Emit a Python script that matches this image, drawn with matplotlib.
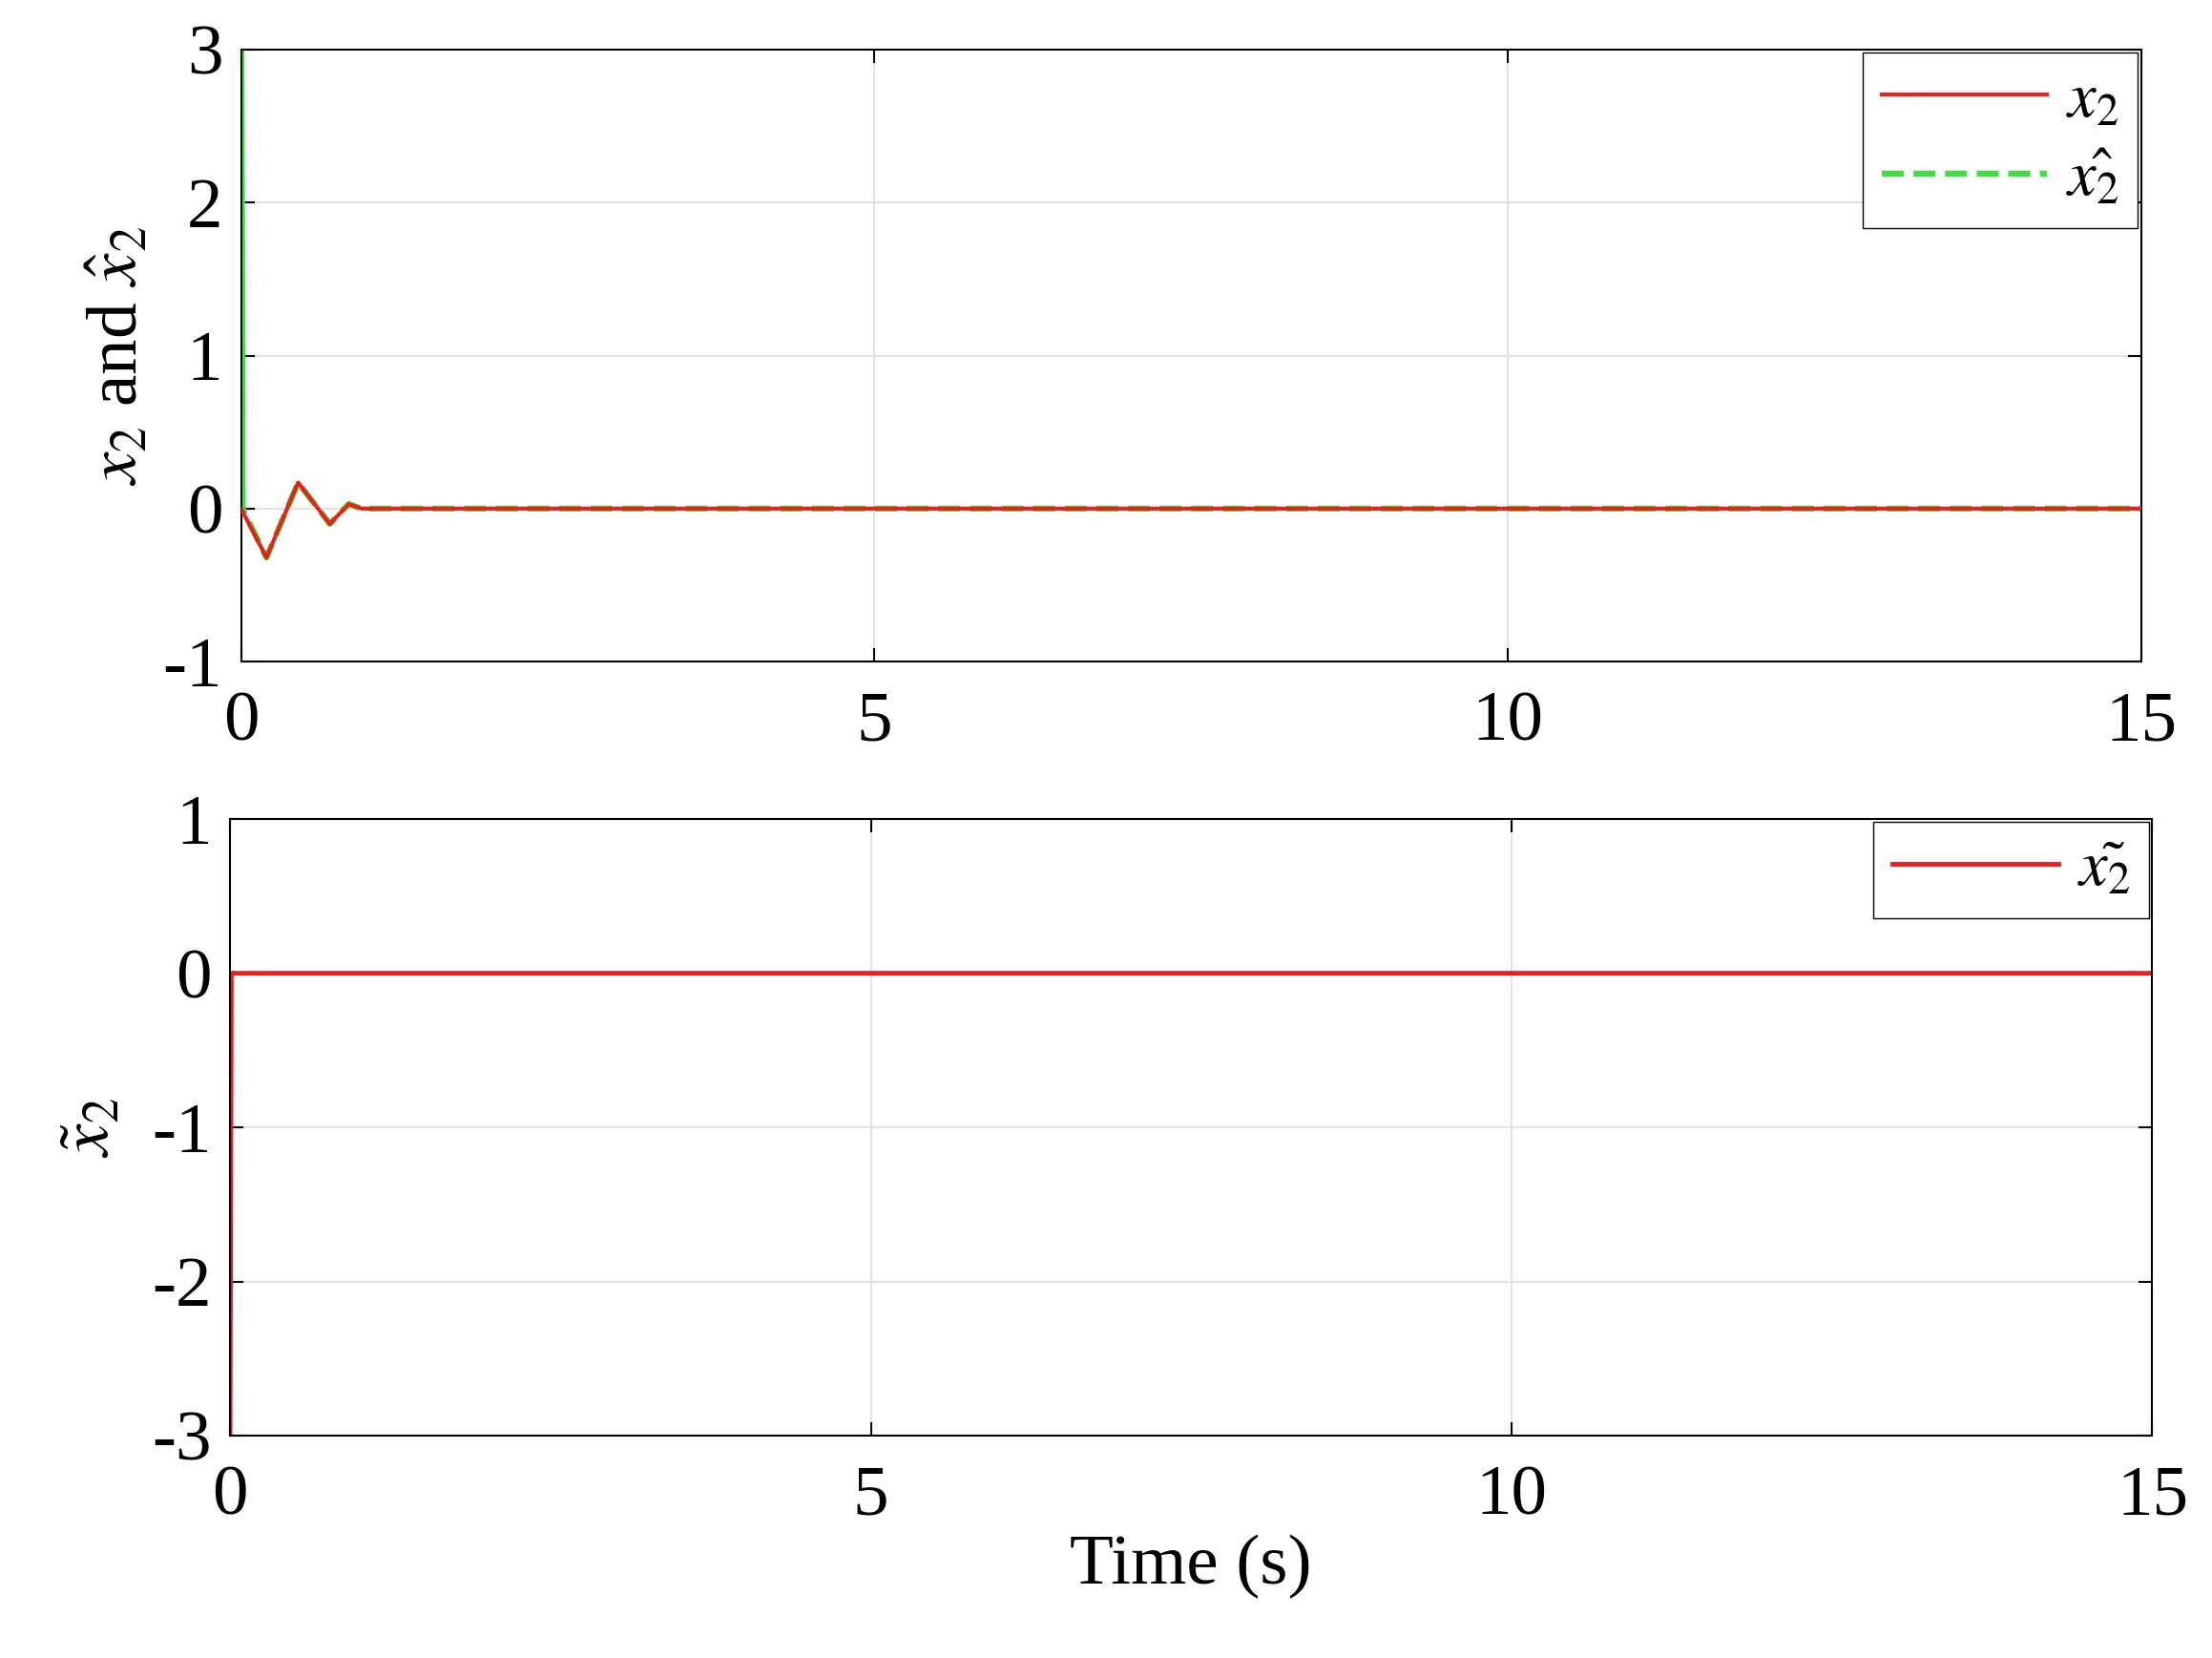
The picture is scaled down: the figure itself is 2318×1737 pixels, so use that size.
import numpy as np
import matplotlib
matplotlib.use("Agg")
import matplotlib.pyplot as plt

plt.rcParams.update({
    "font.family": "Liberation Serif",
    "mathtext.fontset": "stix",
    "font.size": 54,
    "xtick.direction": "in",
    "ytick.direction": "in",
})

# state and estimate (transient)
t_x2 = [0.0, 0.2, 0.45, 0.7, 0.85, 0.95, 15.0]
x2 = [0.0, -0.32, 0.17, -0.1, 0.03, 0.0, 0.0]
t_hat = [0.0, 0.01, 0.2, 0.45, 0.7, 0.85, 0.95, 15.0]
x2_hat = [3.0, 0.0, -0.32, 0.17, -0.1, 0.03, 0.0, 0.0]
# estimation error
t_err = [0.0, 0.01, 15.0]
x2_err = [-3.0, 0.0, 0.0]

RED = "#e8201e"
GREEN = "#3ee03e"

fig = plt.figure(figsize=(23.18, 17.37), dpi=100)
ax1 = fig.add_axes([0.109, 0.601, 0.859, 0.369])
ax2 = fig.add_axes([0.104, 0.134, 0.869, 0.372])

ax1.plot(t_x2, x2, "-", color=RED, lw=3, label=r"$x_2$", zorder=3)
ax1.plot(t_hat, x2_hat, "--", color=GREEN, lw=4.5, label=r"$\hat{x_2}$", zorder=2)
ax1.plot(t_hat[:2], x2_hat[:2], "-", color=GREEN, lw=5, zorder=2)
ax1.set_xlim(0, 15)
ax1.set_ylim(-1, 3)
ax1.set_xticks([0, 5, 10, 15])
ax1.set_yticks([-1, 0, 1, 2, 3])
ax1.set_ylabel(r"$x_2$ and $\hat{x}_2$", labelpad=8)
ax1.legend(loc="upper right", fontsize=48, fancybox=False, framealpha=1,
           edgecolor="black", handlelength=2.6, borderaxespad=0.05,
           borderpad=0.3, labelspacing=0.3, handletextpad=0.3)

ax2.plot(t_err, x2_err, "-", color=RED, lw=3.5, label=r"$\tilde{x_2}$")
ax2.set_xlim(0, 15)
ax2.set_ylim(-3, 1)
ax2.set_xticks([0, 5, 10, 15])
ax2.set_yticks([-3, -2, -1, 0, 1])
ax2.set_ylabel(r"$\tilde{x}_2$", labelpad=20)
ax2.set_xlabel("Time (s)", labelpad=4)
ax2.legend(loc="upper right", fontsize=48, fancybox=False, framealpha=1,
           edgecolor="black", handlelength=2.6, borderaxespad=0.05,
           borderpad=0.3, handletextpad=0.3)

for ax in (ax1, ax2):
    ax.grid(True, color="#dddddd", lw=1.2)
    ax.tick_params(length=10, width=1.5, top=True, right=True)
    ax.tick_params(axis="x", pad=22)
    ax.tick_params(axis="y", pad=14)
    ax.set_yticklabels([f"{int(v)}" for v in ax.get_yticks()])
    for s in ax.spines.values():
        s.set_linewidth(1.5)

fig.savefig("out.png", dpi=100, facecolor="white")
